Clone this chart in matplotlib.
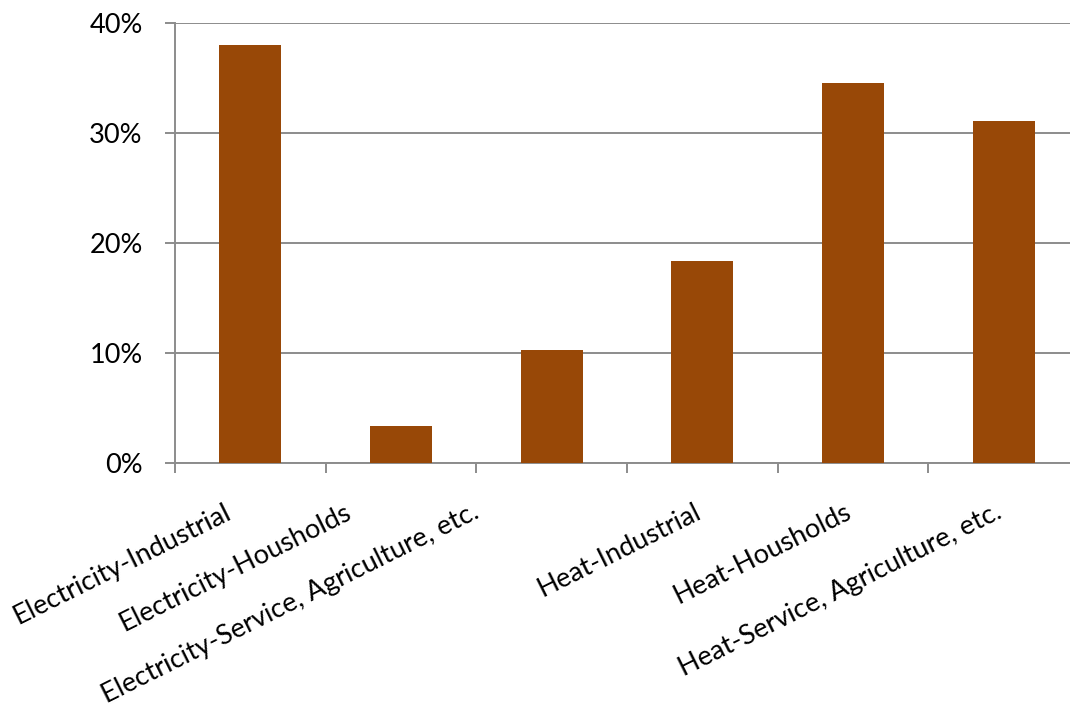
import numpy as np
import matplotlib
matplotlib.use('Agg')
import matplotlib.pyplot as plt
import matplotlib.transforms as mtransforms
from matplotlib.ticker import PercentFormatter

# ==== data ====
categories = ['Electricity-Industrial', 'Electricity-Housholds',
              'Electricity-Service, Agriculture, etc.', 'Heat-Industrial',
              'Heat-Housholds', 'Heat-Service, Agriculture, etc.']
shares = [0.380, 0.034, 0.103, 0.184, 0.345, 0.311]
yticks = [0.0, 0.1, 0.2, 0.3, 0.4]

plt.rcParams['font.family'] = ['Lato', 'DejaVu Sans']

GRAY = '#8c8c8c'
BROWN = '#984807'

fig = plt.figure(figsize=(10.70, 7.17), dpi=100)
ax = fig.add_axes([175 / 1070, 1 - 463 / 717, 904 / 1070, 440 / 717])

x = np.arange(len(categories))
ax.bar(x, shares, width=0.41, color=BROWN, zorder=3)

ax.set_xlim(-0.5, len(categories) - 0.5)
ax.set_ylim(0, 0.4)
ax.set_yticks(yticks)
ax.yaxis.set_major_formatter(PercentFormatter(1.0, decimals=0))
ax.grid(axis='y', color=GRAY, linewidth=1.4, zorder=0)

for s in ['top', 'right']:
    ax.spines[s].set_visible(False)
for s in ['left', 'bottom']:
    ax.spines[s].set_color(GRAY)
    ax.spines[s].set_linewidth(1.4)

# tick marks between categories, labels under the bar centres
ax.set_xticks(np.arange(len(categories) + 1) - 0.5)
ax.set_xticklabels([])
ax.set_xticks(x, minor=True)
ax.set_xticklabels(categories, minor=True, rotation=26.5, ha='right',
                   va='baseline', rotation_mode='anchor', fontsize=19.5)
ax.tick_params(axis='x', which='major', length=7.5, width=1.4, color=GRAY, direction='out')
ax.tick_params(axis='x', which='minor', length=0, pad=39)
ax.tick_params(axis='y', length=7.2, width=1.4, color=GRAY, direction='out',
               pad=16, labelsize=19.5)

# nudge the first labels left a bit
shift_px = [-18, -48, -71, 0, 0, 0]
for lab, dx in zip(ax.get_xticklabels(minor=True), shift_px):
    off = mtransforms.ScaledTranslation(dx / 100, 0, fig.dpi_scale_trans)
    lab.set_transform(lab.get_transform() + off)

fig.savefig('out.png', dpi=100)
